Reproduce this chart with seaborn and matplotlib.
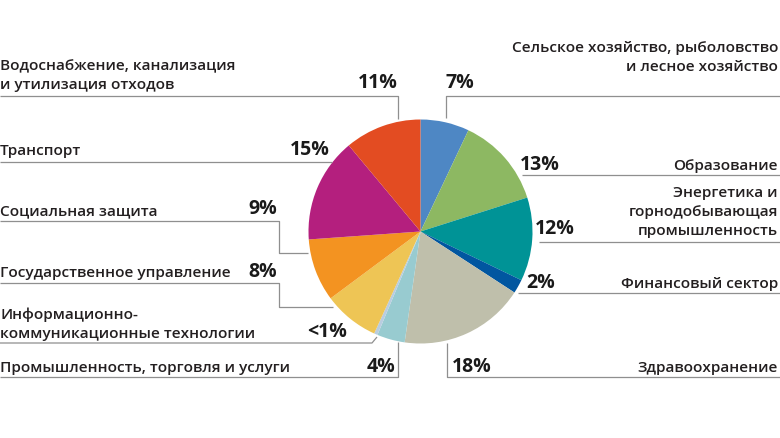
import matplotlib
matplotlib.use("Agg")
import matplotlib.pyplot as plt
import seaborn as sns

sns.set_theme(style="white")
plt.rcParams['font.family'] = ['Open Sans', 'DejaVu Sans']

# sectors, clockwise from 12 o'clock
sectors = ["Сельское хозяйство, рыболовство\nи лесное хозяйство", "Образование",
           "Энергетика и\nгорнодобывающая\nпромышленность", "Финансовый сектор",
           "Здравоохранение", "Промышленность, торговля и услуги",
           "Информационно-\nкоммуникационные технологии", "Государственное управление",
           "Социальная защита", "Транспорт", "Водоснабжение, канализация\nи утилизация отходов"]
shares = [7, 13, 12, 2, 18, 4, 0.5, 8, 9, 15, 11]
pct_labels = ["7%", "13%", "12%", "2%", "18%", "4%", "<1%", "8%", "9%", "15%", "11%"]
colors = ["#4e87c4", "#8db862", "#009396", "#0156a0", "#bfbfab", "#98cbd0",
          "#b9cde0", "#eec555", "#f39321", "#b41f7e", "#e34c22"]

fig = plt.figure(figsize=(7.8, 4.39), dpi=100)
ax = fig.add_axes([0, 0, 1, 1])
ax.pie(shares, colors=colors, center=(420.5, 232.5), radius=112,
       startangle=-90, counterclock=True, frame=True,
       wedgeprops=dict(linewidth=0))
ax.set_xlim(0, 780)
ax.set_ylim(439, 0)
ax.set_aspect('equal')
ax.axis('off')

line_kw = dict(color="#8f8f8f", lw=0.9, solid_capstyle='butt')
txt_kw = dict(fontsize=11.1, fontweight='semibold', color="#231f20")
pct_kw = dict(fontsize=14, fontweight='bold', color="#1a1a1a")

# label layout: (text x, text baseline y, ha, pct x, pct baseline, pct ha, leader path)
layout = [
    (778, 71, 'right', 446, 88, 'left', [(780, 97), (446, 97), (446, 119)]),
    (778, 170, 'right', 520, 170, 'left', [(780, 176), (522, 176)]),
    (778, 235, 'right', 535, 234, 'left', [(780, 243), (539, 243)]),
    (778, 288, 'right', 526, 288, 'left', [(780, 294), (518, 294)]),
    (778, 372, 'right', 452, 372, 'left', [(780, 378), (447, 378), (447, 344)]),
    (0, 372, 'left', 395, 372, 'right', [(0, 378), (398, 378), (398, 343)]),
    (0, 338, 'left', 347, 337, 'right', [(0, 344), (372, 344), (377, 338)]),
    (0, 277, 'left', 277, 277, 'right', [(0, 284), (279, 284), (279, 308), (333, 308)]),
    (0, 215, 'left', 277, 214, 'right', [(0, 222), (279, 222), (279, 254), (308, 254)]),
    (0, 155, 'left', 330, 155, 'right', [(0, 163), (332, 163)]),
    (0, 89, 'left', 398, 88, 'right', [(0, 97), (398, 97), (398, 120)]),
]

for name, pct, (tx, ty, tha, px, py, pha, path) in zip(sectors, pct_labels, layout):
    lines = name.split("\n")
    for i, ln in enumerate(lines):
        yb = ty - (len(lines) - 1 - i) * 19
        ax.text(tx, yb, ln, ha=tha, va='baseline', **txt_kw)
    ax.text(px, py, pct, ha=pha, va='baseline', **pct_kw)
    xs = [p[0] for p in path]
    ys = [p[1] for p in path]
    ax.plot(xs, ys, **line_kw)

fig.savefig("out.png", dpi=100, facecolor="white")
